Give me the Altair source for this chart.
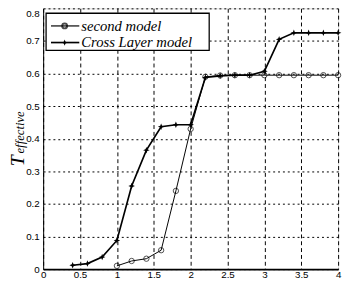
import altair as alt
import pandas as pd

# data
cross_x = [0.4, 0.6, 0.8, 1.0, 1.2, 1.4, 1.6, 1.8, 2.0, 2.2, 2.4, 2.6, 2.8, 3.0, 3.2, 3.4, 3.6, 3.8, 4.0]
cross_y = [0.012, 0.017, 0.037, 0.088, 0.255, 0.365, 0.437, 0.443, 0.443, 0.588, 0.593, 0.595, 0.595, 0.607,
           0.705, 0.725, 0.725, 0.725, 0.725]
second_x = [1.0, 1.2, 1.4, 1.6, 1.8, 2.0, 2.2, 2.4, 2.6, 2.8, 3.0, 3.2, 3.4, 3.6, 3.8, 4.0]
second_y = [0.01, 0.025, 0.032, 0.058, 0.24, 0.43, 0.59, 0.594, 0.595, 0.595, 0.595, 0.595, 0.595, 0.595,
            0.595, 0.595]
series_names = ["second model", "Cross Layer model"]
x_ticks = [0, 0.5, 1, 1.5, 2, 2.5, 3, 3.5, 4]
y_ticks = [0, 0.1, 0.2, 0.3, 0.4, 0.5, 0.6, 0.7, 0.8]

STAR = "M0,-1L0.28,-0.28L1,0L0.28,0.28L0,1L-0.28,0.28L-1,0L-0.28,-0.28Z"
LABEL_FONT = "'Liberation Sans Narrow', 'DejaVu Sans Condensed', 'Liberation Sans'"

cross_df = pd.DataFrame({"x": cross_x, "y": cross_y})
second_df = pd.DataFrame({"x": second_x, "y": second_y})

X_AXIS = alt.Axis(values=x_ticks, title=None, grid=True, gridDash=[4, 3], format="~g",
                  gridColor="black", gridOpacity=1, gridWidth=1, ticks=False, labelPadding=1,
                  labelOverlap=False, labelFlush=False,
                  domainWidth=2, domainColor="black")
Y_AXIS = alt.Axis(values=y_ticks, title=None, grid=True, gridDash=[2, 3], format="~g",
                  gridColor="black", gridOpacity=1, gridWidth=1, ticks=False, labelPadding=4,
                  labelOverlap=False, labelFlush=False, domainColor="black",
                  labelBaseline={"condition": {"test": "datum.value >= 0.79", "value": "top"},
                                 "value": "middle"})


def xenc():
    return alt.X("x:Q", scale=alt.Scale(domain=[0, 4], nice=False), axis=X_AXIS)


def yenc():
    return alt.Y("y:Q", scale=alt.Scale(domain=[0, 0.8], nice=False), axis=Y_AXIS)


second_line = alt.Chart(second_df).mark_line(color="black", strokeWidth=1).encode(x=xenc(), y=yenc())
second_pts = alt.Chart(second_df).mark_point(shape="circle", size=30, color="black", filled=False,
                                             strokeWidth=1).encode(x=xenc(), y=yenc())
cross_line = alt.Chart(cross_df).mark_line(color="black", strokeWidth=1.7).encode(x=xenc(), y=yenc())
cross_pts = alt.Chart(cross_df).mark_point(shape=STAR, size=45, color="black", filled=True,
                                           opacity=1).encode(x=xenc(), y=yenc())

# legend box
leg_box = alt.Chart().mark_rect(fill="white", stroke="black", strokeWidth=1.3).encode(
    x=alt.value(3), x2=alt.value(170), y=alt.value(5), y2=alt.value(43))
leg_l1 = alt.Chart().mark_rule(color="black", strokeWidth=1.2).encode(
    x=alt.value(8), x2=alt.value(37), y=alt.value(18))
leg_p1 = alt.Chart().mark_point(shape="circle", size=25, color="black", filled=False).encode(
    x=alt.value(22), y=alt.value(18))
leg_l2 = alt.Chart().mark_rule(color="black", strokeWidth=1.7).encode(
    x=alt.value(8), x2=alt.value(37), y=alt.value(35))
leg_p2 = alt.Chart().mark_point(shape=STAR, size=40, color="black", filled=True, opacity=1).encode(
    x=alt.value(22), y=alt.value(35))
leg_t1 = alt.Chart().mark_text(text=series_names[0], align="left", baseline="middle",
                               font="Liberation Serif", fontStyle="italic", fontSize=15,
                               color="black").encode(x=alt.value(39), y=alt.value(18))
leg_t2 = alt.Chart().mark_text(text=series_names[1], align="left", baseline="middle",
                               font="Liberation Serif", fontStyle="italic", fontSize=15,
                               color="black").encode(x=alt.value(39), y=alt.value(35))

# y-axis title: T with subscript "effective"
ttl_T = alt.Chart().mark_text(text="T", angle=270, align="center", baseline="middle",
                              font="Liberation Serif", fontStyle="italic", fontSize=20,
                              color="black").encode(x=alt.value(-26), y=alt.value(156))
ttl_sub = alt.Chart().mark_text(text="effective", angle=270, align="center", baseline="middle",
                                font="Liberation Serif", fontStyle="italic", fontSize=13,
                                color="black").encode(x=alt.value(-24), y=alt.value(127))

chart = alt.layer(
    second_line, cross_line, second_pts, cross_pts,
    leg_box, leg_l1, leg_p1, leg_l2, leg_p2, leg_t1, leg_t2, ttl_T, ttl_sub
).properties(
    width=302, height=267,
    autosize=alt.AutoSizeParams(type="none"),
    padding={"left": 36, "top": -3, "right": 5, "bottom": 18},
).configure_view(stroke="black", strokeWidth=1.2).configure_axis(
    labelFont=LABEL_FONT, labelFontSize=15, labelColor="black"
).configure(background="white")

chart.save("out.html", embed_options={"renderer": "svg", "actions": False})
